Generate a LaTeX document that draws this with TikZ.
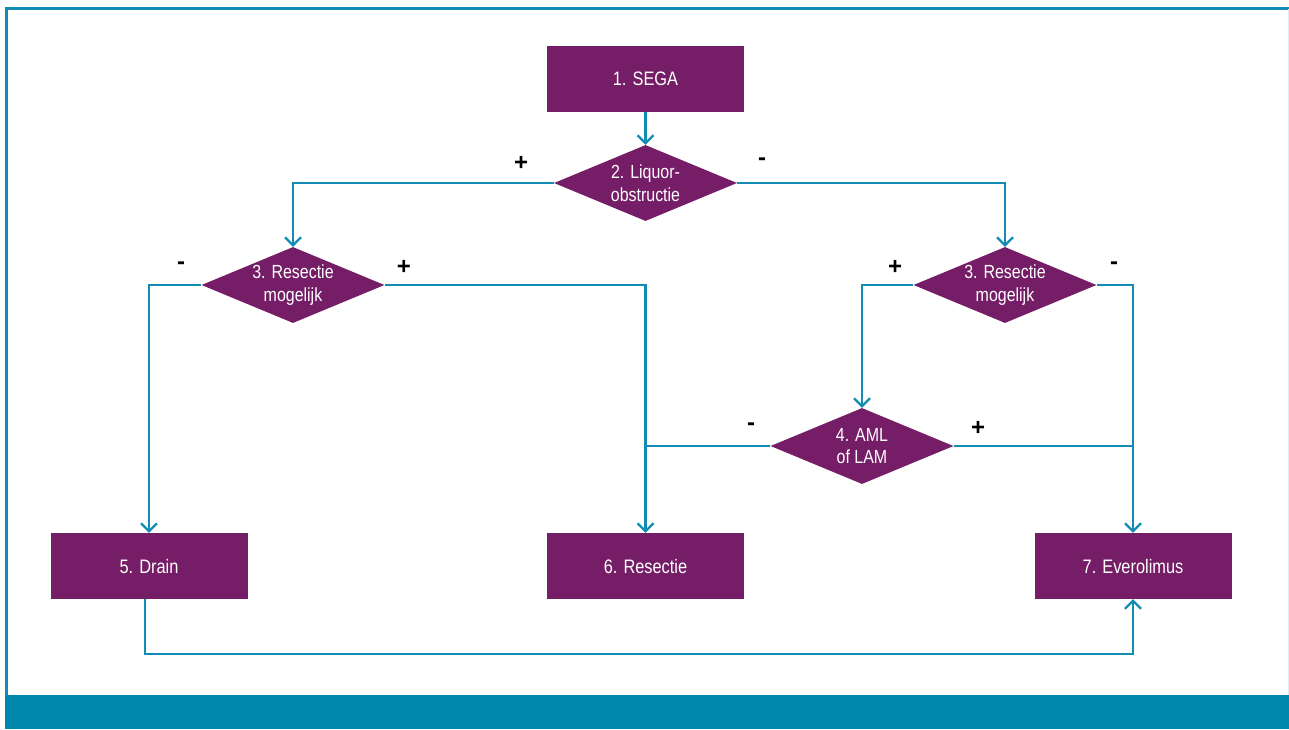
\documentclass[tikz,border=0pt]{standalone}
\usepackage{fontspec}
\setmainfont{Liberation Sans}[FakeStretch=0.84]
\newfontfamily\signfont{Liberation Sans}
\usetikzlibrary{shapes.geometric,arrows.meta,calc}
\definecolor{purp}{HTML}{751D66}
\definecolor{teal1}{HTML}{128CB3}
\definecolor{band}{HTML}{0087AD}
\tikzset{
  box/.style={fill=purp,text=white,minimum width=197pt,minimum height=66pt,inner sep=0pt,text depth=0pt,font=\fontsize{19.5}{22}\selectfont},
  dia/.style={diamond,fill=purp,text=white,aspect=2.4,minimum width=183pt,minimum height=76pt,inner sep=0pt,align=center,font=\fontsize{19}{22.5}\selectfont},
  ln/.style={draw=teal1,line width=2.2pt},
  arr/.style={ln,-{Straight Barb[length=8pt,width=16pt,line width=2.2pt]}},
  sign/.style={font=\signfont\bfseries\fontsize{24}{24}\selectfont,text=black,inner sep=0pt}
}
\begin{document}
\begin{tikzpicture}[x=1pt,y=-1pt]
\useasboundingbox (0,0) rectangle (1289,729);
% frame
\fill[band] (5,695) rectangle (1289,729);
\draw[teal1,line width=3pt] (6.5,695) -- (6.5,8.5) -- (1289,8.5);
\draw[teal1!15,line width=1pt] (1288.5,8.5) -- (1288.5,695);
% nodes
\node[box] (b1) at (645.5,79) {1. SEGA};
\node[dia] (d2) at (645.5,183) {2. Liquor-\\obstructie};
\node[dia] (d3l) at (293,285) {3. Resectie\\mogelijk};
\node[dia] (d3r) at (1005,285) {3. Resectie\\mogelijk};
\node[dia] (d4) at (862,446) {4. AML\\of LAM};
\node[box] (b5) at (149,566) {5. Drain};
\node[box] (b6) at (645.5,566) {6. Resectie};
\node[box] (b7) at (1133,566) {7. Everolimus};
% connectors
\draw[arr] (b1.south) -- (d2.north);
\draw[arr] (d2.west) -| (d3l.north);
\draw[arr] (d2.east) -| (d3r.north);
\draw[arr] (d3l.west) -| (b5.north);
\draw[arr] (d3l.east) -| (b6.north);
\draw[arr] (d3r.west) -| (d4.north);
\draw[arr] (d3r.east) -| (b7.north);
\draw[ln] (d4.west) -- (d4.west -| b6.north);
\draw[ln] (d4.east) -- (d4.east -| b7.north);
\draw[arr] ($(b5.south)+(-4,0)$) -- ++(0,55) -| (b7.south);
% signs
\node[sign] (s2p) at (521,163) {+};
\node[sign] (s2m) at (762,162) {-};
\node[sign] (s3lm) at (181,266) {-};
\node[sign] (s3lp) at (404,267) {+};
\node[sign] (s3rp) at (895,267) {+};
\node[sign] (s3rm) at (1114,266) {-};
\node[sign] (s4m) at (751,427) {-};
\node[sign] (s4p) at (978,428) {+};
\end{tikzpicture}
\end{document}
